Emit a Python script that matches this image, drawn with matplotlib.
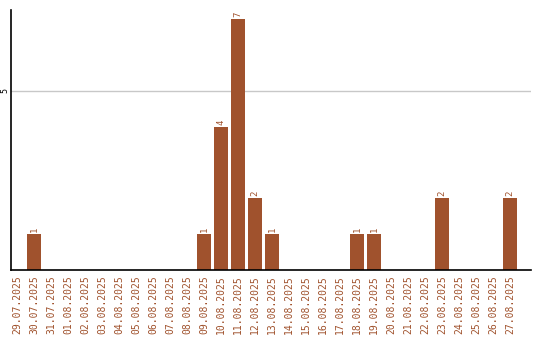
import matplotlib
matplotlib.use("Agg")
import matplotlib.pyplot as plt

dates = ["29.07.2025","30.07.2025","31.07.2025","01.08.2025","02.08.2025","03.08.2025",
         "04.08.2025","05.08.2025","06.08.2025","07.08.2025","08.08.2025","09.08.2025",
         "10.08.2025","11.08.2025","12.08.2025","13.08.2025","14.08.2025","15.08.2025",
         "16.08.2025","17.08.2025","18.08.2025","19.08.2025","20.08.2025","21.08.2025",
         "22.08.2025","23.08.2025","24.08.2025","25.08.2025","26.08.2025","27.08.2025"]
counts = [0,1,0,0,0,0,0,0,0,0,0,1,4,7,2,1,0,0,0,0,1,1,0,0,0,2,0,0,0,2]
yticks = [5]

color = "#A0522D"
W, H = 540, 340
fig = plt.figure(figsize=(W/100, H/100), dpi=100)
ax = fig.add_axes([11/W, (H-270)/H, (531-11)/W, (270-10)/H])

x = list(range(len(dates)))
ax.bar(x, counts, width=0.82, color=color, zorder=2)
for xi, c in zip(x, counts):
    if c > 0:
        ax.text(xi, c + 0.06, str(c), rotation=90, ha="center", va="bottom",
                fontsize=6.5, color=color, family="DejaVu Sans Mono")

ax.set_xlim(-0.353, 30.24)
ax.set_ylim(0, 7.26)
ax.set_yticks(yticks)
ax.set_yticklabels([str(v) for v in yticks], rotation=90, va="center", fontsize=6,
                   family="DejaVu Sans Mono")
ax.yaxis.grid(True, color="#c8c8c8", linewidth=1, zorder=0)
ax.set_axisbelow(True)
ax.tick_params(axis="y", length=0, pad=1)
ax.set_xticks(x)
ax.set_xticklabels(dates, rotation=90, fontsize=7, color=color, family="DejaVu Sans Mono")
ax.tick_params(axis="x", length=0, pad=4)

for s in ["top", "right"]:
    ax.spines[s].set_visible(False)
for s in ["left", "bottom"]:
    ax.spines[s].set_color("black")
    ax.spines[s].set_linewidth(1.2)

fig.savefig("out.png", dpi=100)
